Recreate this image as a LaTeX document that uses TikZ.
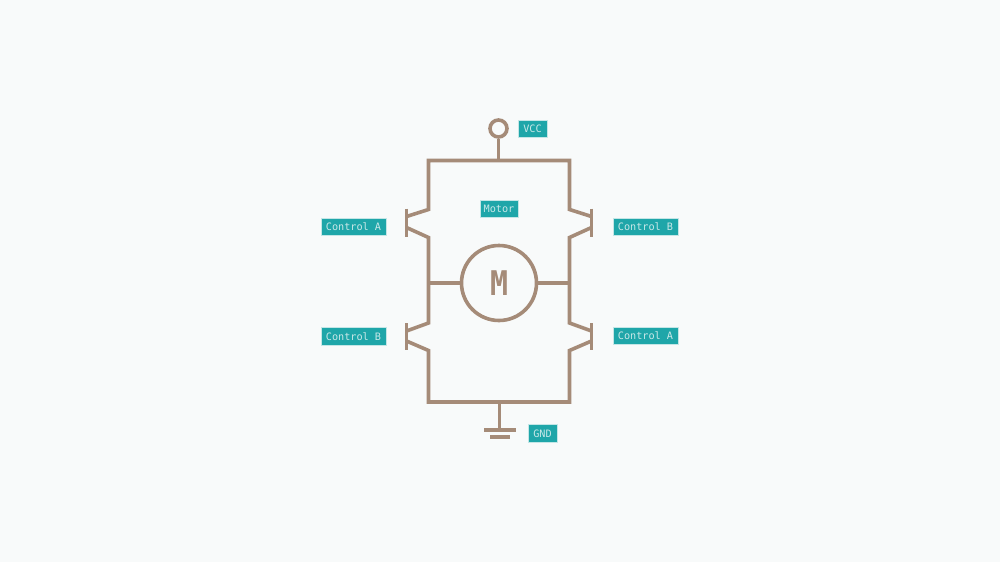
\documentclass[tikz,border=0pt]{standalone}
\usepackage{fontspec}
\setmonofont{DejaVu Sans Mono}
\definecolor{bgc}{HTML}{F8FAFA}
\definecolor{wire}{HTML}{A58B78}
\definecolor{teal1}{HTML}{1FA6A9}
\definecolor{halo}{HTML}{C4E6E6}
\definecolor{txt}{HTML}{C9E8E8}
\tikzset{
  wireline/.style={draw=wire,line width=3.6pt,line join=miter},
  tag/.style={fill=teal1,draw=halo,line width=0.6pt,text=txt,font=\ttfamily\fontsize{10.2}{11}\selectfont,inner sep=0pt,minimum height=17.5pt,anchor=center},
  tagwide/.style={tag,minimum width=65pt},
  tagshort/.style={tag,minimum width=29pt},
  tagmid/.style={tag,minimum width=38pt},
  term/.style={circle,draw=wire,line width=3.6pt,inner sep=0pt,minimum size=17pt},
  motor/.style={circle,draw=wire,line width=3.6pt,inner sep=0pt,minimum size=75pt,text=wire,font=\ttfamily\bfseries\fontsize{34}{34}\selectfont},
}
\begin{document}
\begin{tikzpicture}[x=1pt,y=-1pt]
\path[fill=bgc] (0,0) rectangle (1000,562);
\useasboundingbox (0,0) rectangle (1000,562);
% rail corners and junctions
\coordinate (tl) at (428.5,160.5);
\coordinate (tr) at (569.5,160.5);
\coordinate (tm) at (498.5,160.5);
\coordinate (bl) at (428.5,402);
\coordinate (br) at (569.5,402);
\coordinate (bm) at (499.5,402);
\coordinate (ml) at (428.5,283);
\coordinate (mr) at (569.5,283);
% transistor points, left upper
\coordinate (a1) at (428.5,209.5);
\coordinate (a2) at (406.5,216.5);
\coordinate (a3) at (406.5,227.5);
\coordinate (a4) at (428.5,237.5);
\coordinate (a5) at (406.5,208.5);
\coordinate (a6) at (406.5,236.5);
% left lower
\coordinate (b1) at (428.5,323);
\coordinate (b2) at (406.5,331);
\coordinate (b3) at (406.5,341);
\coordinate (b4) at (428.5,350.5);
\coordinate (b5) at (406.5,323);
\coordinate (b6) at (406.5,350);
% right upper
\coordinate (c1) at (569.5,209.5);
\coordinate (c2) at (591.5,216.5);
\coordinate (c3) at (591.5,227.5);
\coordinate (c4) at (569.5,237.5);
\coordinate (c5) at (591.5,208.5);
\coordinate (c6) at (591.5,236.5);
% right lower
\coordinate (d1) at (569.5,323);
\coordinate (d2) at (591.5,331);
\coordinate (d3) at (591.5,341);
\coordinate (d4) at (569.5,350.5);
\coordinate (d5) at (591.5,323);
\coordinate (d6) at (591.5,350);
% ground
\coordinate (g0) at (499.5,430);
\coordinate (g1) at (484,430);
\coordinate (g2) at (516,430);
\coordinate (g3) at (490,437);
\coordinate (g4) at (510,437);
% nodes
\node[term] (vcc) at (498.5,128.5) {};
\node[motor] (mot) at (499,283) {\scalebox{0.88}[1]{M}};
\node[tagshort] (lvcc) at (532.5,129) {VCC};
\node[tagmid] (lmot) at (499,209) {Motor};
\node[tagwide] (lca1) at (353.5,227) {Control A};
\node[tagwide] (lcb1) at (645.5,227) {Control B};
\node[tagwide] (lcb2) at (353.5,336.5) {Control B};
\node[tagwide] (lca2) at (645.5,336) {Control A};
\node[tagshort] (lgnd) at (542.5,433.5) {GND};
% wires
\draw[wireline] (vcc) -- (tm);
\draw[wireline] (a2) -- (a1) -- (tl) -- (tr) -- (c1) -- (c2);
\draw[wireline] (a3) -- (a4) -- (b1) -- (b2);
\draw[wireline] (c3) -- (c4) -- (d1) -- (d2);
\draw[wireline] (b3) -- (b4) -- (bl) -- (br) -- (d4) -- (d3);
\draw[wireline] (a5) -- (a6);
\draw[wireline] (b5) -- (b6);
\draw[wireline] (c5) -- (c6);
\draw[wireline] (d5) -- (d6);
\draw[wireline] (ml) -- (mot);
\draw[wireline] (mr) -- (mot);
\draw[wireline] (bm) -- (g0);
\draw[wireline] (g1) -- (g2);
\draw[wireline] (g3) -- (g4);
\end{tikzpicture}
\end{document}
